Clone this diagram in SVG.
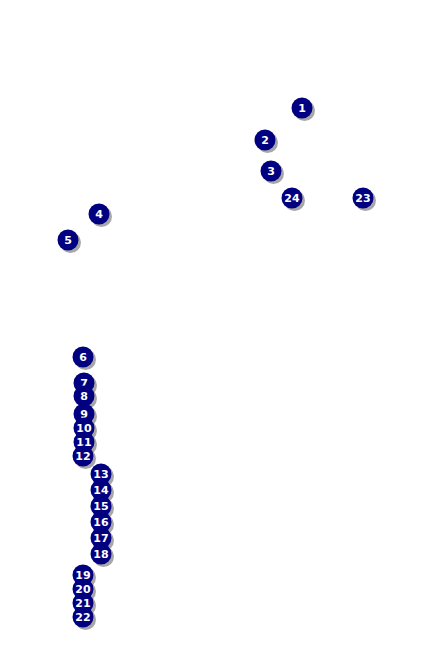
<svg xmlns="http://www.w3.org/2000/svg" width="435" height="650" viewBox="0 0 435 650">
<defs>
<style>
.sh{fill:#8a8a8a;opacity:0.75}
.c{fill:#000080}
.t{fill:#fff;font-family:"DejaVu Sans",Verdana,sans-serif;font-weight:bold;font-size:11px;text-anchor:middle;dominant-baseline:central}
</style>
<g id="m"><circle class="sh" cx="2.5" cy="2.5" r="10.5"/><circle class="c" r="10.5"/></g>
</defs>
<rect width="435" height="650" fill="#fff"/>
<g id="connectors"/>
<g id="n1" transform="translate(302,108)"><use href="#m"/><text class="t">1</text></g>
<g id="n2" transform="translate(265,140)"><use href="#m"/><text class="t">2</text></g>
<g id="n3" transform="translate(271,171)"><use href="#m"/><text class="t">3</text></g>
<g id="n24" transform="translate(292,198)"><use href="#m"/><text class="t">24</text></g>
<g id="n23" transform="translate(363,198)"><use href="#m"/><text class="t">23</text></g>
<g id="n4" transform="translate(99,214)"><use href="#m"/><text class="t">4</text></g>
<g id="n5" transform="translate(68,240)"><use href="#m"/><text class="t">5</text></g>
<g id="n6" transform="translate(83,357)"><use href="#m"/><text class="t">6</text></g>
<g id="n7" transform="translate(84,383)"><use href="#m"/><text class="t">7</text></g>
<g id="n8" transform="translate(84,396)"><use href="#m"/><text class="t">8</text></g>
<g id="n9" transform="translate(84,414)"><use href="#m"/><text class="t">9</text></g>
<g id="n10" transform="translate(84,428)"><use href="#m"/><text class="t">10</text></g>
<g id="n11" transform="translate(84,442)"><use href="#m"/><text class="t">11</text></g>
<g id="n12" transform="translate(83,456)"><use href="#m"/><text class="t">12</text></g>
<g id="n13" transform="translate(101,474)"><use href="#m"/><text class="t">13</text></g>
<g id="n14" transform="translate(101,490)"><use href="#m"/><text class="t">14</text></g>
<g id="n15" transform="translate(101,506)"><use href="#m"/><text class="t">15</text></g>
<g id="n16" transform="translate(101,522)"><use href="#m"/><text class="t">16</text></g>
<g id="n17" transform="translate(101,538)"><use href="#m"/><text class="t">17</text></g>
<g id="n18" transform="translate(101,554)"><use href="#m"/><text class="t">18</text></g>
<g id="n19" transform="translate(83,575)"><use href="#m"/><text class="t">19</text></g>
<g id="n20" transform="translate(83,589)"><use href="#m"/><text class="t">20</text></g>
<g id="n21" transform="translate(83,603)"><use href="#m"/><text class="t">21</text></g>
<g id="n22" transform="translate(83,617)"><use href="#m"/><text class="t">22</text></g>
</svg>
